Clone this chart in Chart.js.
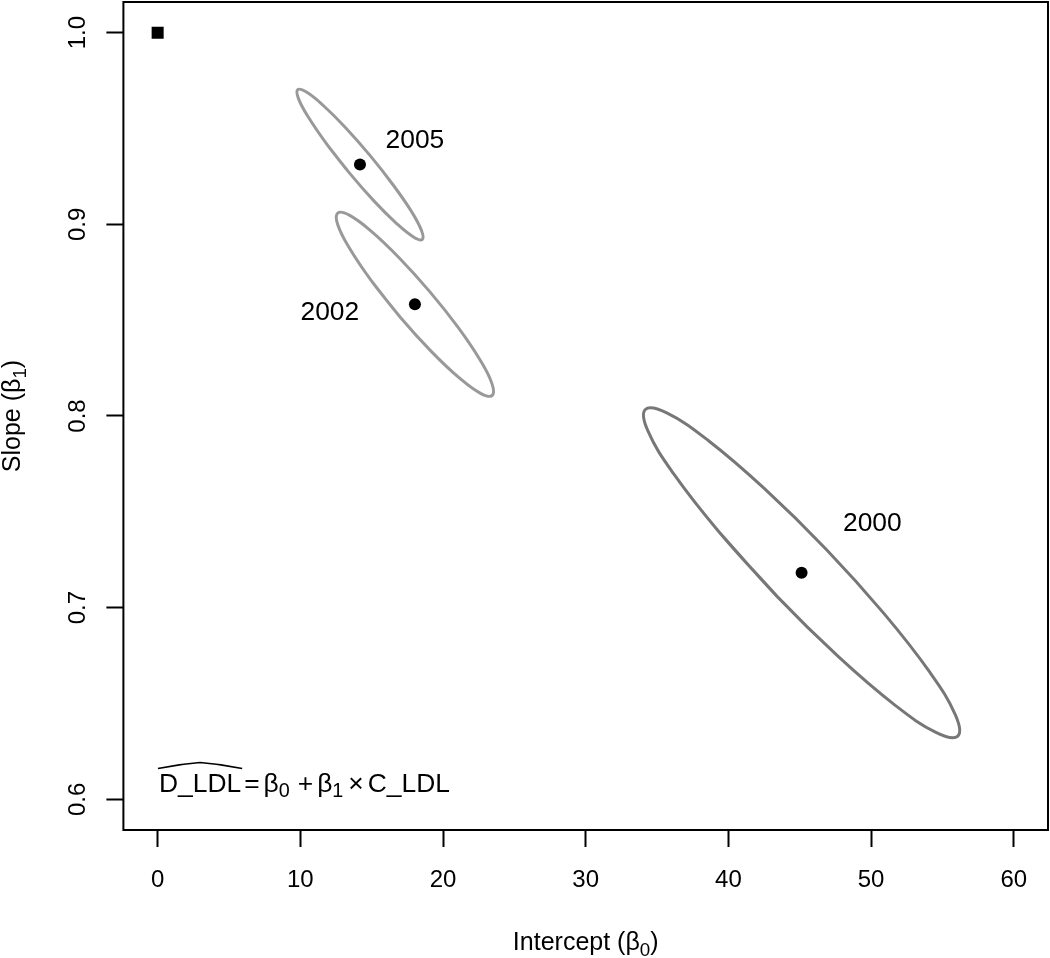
<!DOCTYPE html>
<html>
<head>
<meta charset="utf-8">
<script src="https://cdn.jsdelivr.net/npm/chart.js@4.4.1/dist/chart.umd.min.js"></script>
<style>
  body { margin: 0; background: #fff; }
  #wrap { width: 1050px; height: 958px; }
</style>
</head>
<body>
<div id="wrap"><canvas id="chart" width="1050" height="958"></canvas></div>
<script>
// estimates (intercept, slope) per year
const years = ['2005', '2002', '2000'];
const interceptEst = [14.18, 18.03, 45.13];
const slopeEst = [0.9312, 0.8583, 0.7182];

// identity line reference point
const identityPoint = [{ x: 0, y: 1.0 }];

// confidence ellipse outlines (16 points each)
const ell2005X = [18.54, 17.93, 16.75, 15.17, 13.45, 11.84, 10.58, 9.87, 9.82, 10.43, 11.61, 13.19, 14.91, 16.52, 17.78, 18.49];
const ell2005Y = [0.8921, 0.8934, 0.9004, 0.9121, 0.9267, 0.9420, 0.9557, 0.9656, 0.9703, 0.9690, 0.9620, 0.9503, 0.9357, 0.9204, 0.9068, 0.8968];
const ell2002X = [23.44, 22.63, 21.12, 19.14, 16.99, 15.00, 13.47, 12.63, 12.62, 13.43, 14.94, 16.92, 19.07, 21.06, 22.59, 23.43];
const ell2002Y = [0.8107, 0.8118, 0.8200, 0.8340, 0.8517, 0.8704, 0.8873, 0.8997, 0.9059, 0.9048, 0.8966, 0.8826, 0.8649, 0.8462, 0.8293, 0.8169];
const ell2000X = [56.08, 54.58, 51.65, 47.73, 43.41, 39.35, 36.17, 34.36, 34.18, 35.68, 38.61, 42.53, 46.85, 50.91, 54.09, 55.90];
const ell2000Y = [0.6330, 0.6348, 0.6493, 0.6743, 0.7059, 0.7395, 0.7698, 0.7922, 0.8034, 0.8016, 0.7871, 0.7621, 0.7305, 0.6969, 0.6666, 0.6442];

const xTicks = [0, 10, 20, 30, 40, 50, 60];
const yTicks = [0.6, 0.7, 0.8, 0.9, 1.0];
const yTickLabels = ['0.6', '0.7', '0.8', '0.9', '1.0'];

// where the year labels sit (data coords)
const labelAnchors = {
    '2005': { x: 18.03, y: 0.9447 },
    '2002': { x: 12.07, y: 0.8552 },
    '2000': { x: 50.09, y: 0.7448 }
};

const FONT = '"Liberation Sans", Arial, sans-serif';

// start the loop on a flat side and overlap two points so the spline closes smoothly
function loop(xs, ys) {
    const pts = xs.map((x, i) => ({ x: x, y: ys[i] }));
    return [...pts.slice(4), ...pts.slice(0, 6)];
}

// draw text made of parts, some of them subscripts
function drawRich(ctx, parts, x, y, opts) {
    const size = opts.size || 24;
    const align = opts.align || 'center';
    ctx.save();
    ctx.translate(x, y);
    if (opts.rot) ctx.rotate(opts.rot);
    ctx.fillStyle = '#000';
    ctx.textBaseline = 'alphabetic';
    ctx.textAlign = 'left';
    const widths = parts.map(p => {
        ctx.font = (p.sub ? size * 0.75 : size) + 'px ' + FONT;
        return ctx.measureText(p.t).width + (p.gap || 0);
    });
    const total = widths.reduce((a, b) => a + b, 0);
    let cx = align === 'center' ? -total / 2 : 0;
    parts.forEach((p, i) => {
        ctx.font = (p.sub ? size * 0.75 : size) + 'px ' + FONT;
        ctx.fillText(p.t, cx + (p.gap || 0), p.sub ? size * 0.22 : 0);
        cx += widths[i];
    });
    ctx.restore();
    return total;
}

const framePlugin = {
    id: 'frame',
    afterDraw(chart) {
        const ctx = chart.ctx;
        const a = chart.chartArea;
        const xs = chart.scales.x;
        const ys = chart.scales.y;

        ctx.save();
        ctx.strokeStyle = '#000';
        ctx.lineWidth = 2;
        ctx.strokeRect(a.left, a.top, a.right - a.left, a.bottom - a.top);
        ctx.restore();

        // tick labels
        xTicks.forEach(v => {
            drawRich(ctx, [{ t: String(v) }], xs.getPixelForValue(v), 887, { size: 24 });
        });
        yTicks.forEach((v, i) => {
            drawRich(ctx, [{ t: yTickLabels[i] }], 85, ys.getPixelForValue(v), { size: 24, rot: -Math.PI / 2 });
        });

        // axis titles
        drawRich(ctx, [{ t: 'Intercept (\u03B2' }, { t: '0', sub: true }, { t: ')' }],
            (a.left + a.right) / 2, 950, { size: 25 });
        drawRich(ctx, [{ t: 'Slope (\u03B2' }, { t: '1', sub: true }, { t: ')' }],
            20, (a.top + a.bottom) / 2, { size: 25, rot: -Math.PI / 2 });

        // year labels
        years.forEach(yr => {
            const p = labelAnchors[yr];
            drawRich(ctx, [{ t: yr }], xs.getPixelForValue(p.x), ys.getPixelForValue(p.y) + 9.4, { size: 26.4 });
        });

        // model equation with a wide hat
        const ex = 159, ey = 791.5, es = 26.4;
        const w = drawRich(ctx, [{ t: 'D_LDL' }], ex, ey, { size: es, align: 'left' });
        ctx.save();
        ctx.strokeStyle = '#000';
        ctx.lineWidth = 1.6;
        ctx.beginPath();
        ctx.moveTo(ex - 1, ey - 23);
        ctx.quadraticCurveTo(ex + w * 0.25, ey - 27.5, ex + w / 2, ey - 29);
        ctx.quadraticCurveTo(ex + w * 0.75, ey - 27.5, ex + w + 1, ey - 23);
        ctx.stroke();
        ctx.restore();
        drawRich(ctx, [
            { t: '=', gap: 3 }, { t: '\u03B2', gap: 4 }, { t: '0', sub: true },
            { t: '+', gap: 8 }, { t: '\u03B2', gap: 4 }, { t: '1', sub: true },
            { t: '\u00D7', gap: 5 }, { t: 'C_LDL', gap: 4 }
        ], ex + w, ey, { size: es, align: 'left' });
    }
};

const ellipseStyle = {
    showLine: true,
    pointRadius: 0,
    borderWidth: 3,
    tension: 0.4,
    fill: false
};

new Chart(document.getElementById('chart'), {
    type: 'scatter',
    data: {
        datasets: [
            Object.assign({ data: loop(ell2005X, ell2005Y), borderColor: '#999999' }, ellipseStyle),
            Object.assign({ data: loop(ell2002X, ell2002Y), borderColor: '#999999' }, ellipseStyle),
            Object.assign({ data: loop(ell2000X, ell2000Y), borderColor: '#777777' }, ellipseStyle),
            {
                data: interceptEst.map((x, i) => ({ x: x, y: slopeEst[i] })),
                pointRadius: 6,
                pointBorderWidth: 0,
                backgroundColor: '#000'
            },
            {
                data: identityPoint,
                pointStyle: 'rect',
                pointRadius: 8.5,
                pointBorderWidth: 0,
                backgroundColor: '#000'
            }
        ]
    },
    options: {
        responsive: false,
        animation: false,
        devicePixelRatio: 1,
        layout: { autoPadding: false, padding: { top: 2, right: 2, left: 0, bottom: 0 } },
        plugins: {
            legend: { display: false },
            tooltip: { enabled: false }
        },
        scales: {
            x: {
                type: 'linear',
                min: -2.4,
                max: 62.4,
                border: { display: false },
                grid: { drawOnChartArea: false, drawTicks: true, tickLength: 17, tickWidth: 2, tickColor: '#000' },
                ticks: { display: false, stepSize: 10, includeBounds: false },
                afterFit: s => { s.height = 128; }
            },
            y: {
                type: 'linear',
                min: 0.584,
                max: 1.016,
                border: { display: false },
                grid: { drawOnChartArea: false, drawTicks: true, tickLength: 17, tickWidth: 2, tickColor: '#000' },
                ticks: { display: false, stepSize: 0.1, includeBounds: false },
                afterFit: s => { s.height; s.width = 123.4; }
            }
        }
    },
    plugins: [framePlugin]
});
</script>
</body>
</html>
